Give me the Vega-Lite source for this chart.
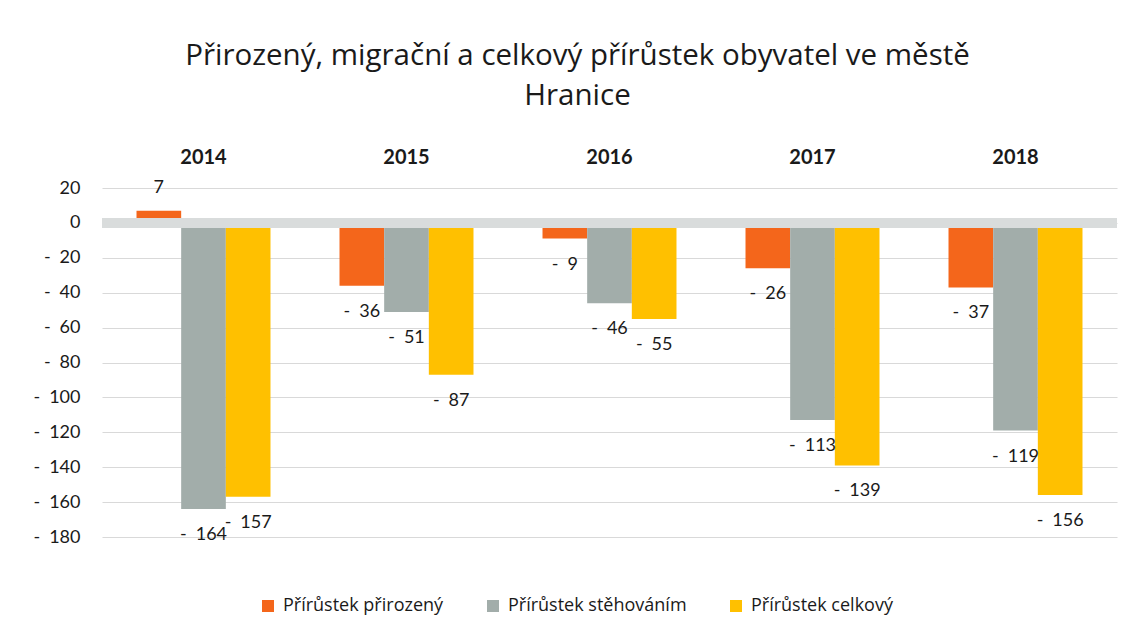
{
  "$schema": "https://vega.github.io/schema/vega-lite/v6.json",
  "width": 1015,
  "height": 349,
  "autosize": {"type": "none"},
  "padding": {"left": 102, "top": 188, "right": 8, "bottom": 98},
  "background": "white",
  "title": {
    "text": ["Přirozený, migrační a celkový přírůstek obyvatel ve městě", "Hranice"],
    "font": "Open Sans",
    "fontSize": 29.5,
    "fontWeight": "normal",
    "lineHeight": 40,
    "color": "#1a1a1a",
    "anchor": "middle",
    "frame": "bounds",
    "baseline": "bottom",
    "offset": 7
  },
  "config": {
    "font": "Lato",
    "locale": {"number": {"decimal": ".", "thousands": ",", "grouping": [3], "currency": ["", ""], "minus": "-\u2002"}},
    "view": {"stroke": null}
  },
  "data": {
    "values": [
      {"year": "2014", "series": "Přírůstek přirozený", "value": 7},
      {"year": "2014", "series": "Přírůstek stěhováním", "value": -164},
      {"year": "2014", "series": "Přírůstek celkový", "value": -157},
      {"year": "2015", "series": "Přírůstek přirozený", "value": -36},
      {"year": "2015", "series": "Přírůstek stěhováním", "value": -51},
      {"year": "2015", "series": "Přírůstek celkový", "value": -87},
      {"year": "2016", "series": "Přírůstek přirozený", "value": -9},
      {"year": "2016", "series": "Přírůstek stěhováním", "value": -46},
      {"year": "2016", "series": "Přírůstek celkový", "value": -55},
      {"year": "2017", "series": "Přírůstek přirozený", "value": -26},
      {"year": "2017", "series": "Přírůstek stěhováním", "value": -113},
      {"year": "2017", "series": "Přírůstek celkový", "value": -139},
      {"year": "2018", "series": "Přírůstek přirozený", "value": -37},
      {"year": "2018", "series": "Přírůstek stěhováním", "value": -119},
      {"year": "2018", "series": "Přírůstek celkový", "value": -156}
    ]
  },
  "encoding": {
    "x": {
      "field": "year", "type": "nominal",
      "scale": {"paddingInner": 0.34, "paddingOuter": 0.17},
      "axis": {"orient": "top", "title": null, "labelAngle": 0, "domain": false, "ticks": false,
        "labelFontWeight": "bold", "labelFontSize": 20, "labelColor": "#1a1a1a", "labelPadding": 21}
    },
    "xOffset": {
      "field": "series", "type": "nominal",
      "sort": ["Přírůstek přirozený", "Přírůstek stěhováním", "Přírůstek celkový"],
      "scale": {"paddingInner": 0, "paddingOuter": 0}
    },
    "y": {
      "field": "value", "type": "quantitative",
      "scale": {"domain": [-180, 20], "nice": false, "zero": false},
      "axis": {"title": null, "domain": false, "ticks": false, "grid": true, "gridColor": "#d9d9d9",
        "values": [20, 0, -20, -40, -60, -80, -100, -120, -140, -160, -180],
        "labelFontSize": 18, "labelColor": "#1a1a1a", "labelPadding": 22}
    }
  },
  "layer": [
    {
      "mark": {"type": "bar"},
      "encoding": {
        "color": {
          "field": "series", "type": "nominal",
          "sort": ["Přírůstek přirozený", "Přírůstek stěhováním", "Přírůstek celkový"],
          "scale": {"domain": ["Přírůstek přirozený", "Přírůstek stěhováním", "Přírůstek celkový"],
            "range": ["#F4661B", "#A2ADAA", "#FFC000"]},
          "legend": {
            "title": null, "orient": "none", "direction": "horizontal",
            "legendX": 157, "legendY": 409,
            "symbolType": "square", "symbolSize": 144, "symbolStrokeWidth": 0,
            "labelFont": "Open Sans", "labelFontSize": 18, "labelColor": "#1a1a1a", "labelOffset": 6,
            "labelLimit": 400, "columnPadding": 40
          }
        }
      }
    },
    {
      "mark": {"type": "rule", "color": "#d9dcdc", "strokeWidth": 10},
      "encoding": {"y": {"datum": 0}, "x": null, "xOffset": null}
    },
    {
      "transform": [{"filter": "datum.value < 0"}],
      "mark": {"type": "text", "baseline": "middle", "dy": 26, "fontSize": 18, "color": "#1a1a1a"},
      "encoding": {"text": {"field": "value", "type": "quantitative"}}
    },
    {
      "transform": [{"filter": "datum.value >= 0"}],
      "mark": {"type": "text", "baseline": "middle", "dy": -23, "fontSize": 18, "color": "#1a1a1a"},
      "encoding": {"text": {"field": "value", "type": "quantitative"}}
    }
  ]
}
